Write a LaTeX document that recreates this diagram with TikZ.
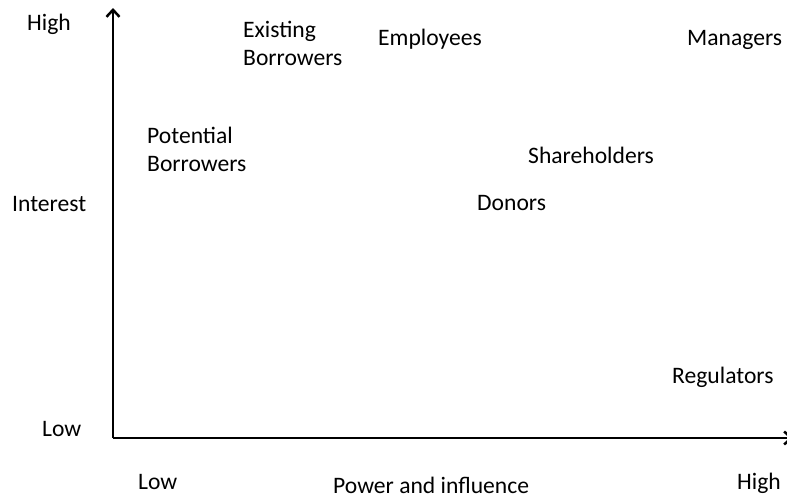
\documentclass[tikz,border=0pt]{standalone}
\usepackage{fontspec}
\setmainfont{Carlito}
\usetikzlibrary{arrows.meta}

\tikzset{
    label/.style={anchor=base west, inner sep=0pt, align=left,
        font=\fontsize{23.6}{28}\selectfont},
    axis/.style={line width=2.5pt, -{Straight Barb[length=7pt,width=13pt,line width=2.5pt]}}
}

\begin{document}
\begin{tikzpicture}[x=1pt, y=-1pt]
            \useasboundingbox (0, 0) rectangle (787, 498);

            % axes
            \coordinate (origin) at (113.0, 438.0);
            \coordinate (ytip) at (113.0, 8.0);
            \coordinate (xtip) at (793.0, 438.0);
            \draw[axis] (origin) -- (ytip); % interest
            \draw[axis] (origin) -- (xtip); % power

            % axis labels
            \node[label] (yhigh) at (27.0, 30.0) {High};
            \node[label] (ylow) at (42.0, 436.0) {Low};
            \node[label] (ytitle) at (12.0, 211.0) {Interest};
            \node[label] (xlow) at (138.0, 489.0) {Low};
            \node[label] (xhigh) at (737.0, 489.0) {High};
            \node[label] (xtitle) at (333.0, 493.0) {Power and influence};

            % stakeholders (two-line labels sit on their last line)
            \node[label] (existing) at (243.0, 65.0) {Existing\\Borrowers};
            \node[label] (employees) at (378.0, 45.0) {Employees};
            \node[label] (managers) at (687.0, 45.0) {Managers};
            \node[label] (potential) at (147.0, 171.0) {Potential\\Borrowers};
            \node[label] (shareholders) at (528.0, 163.0) {Shareholders};
            \node[label] (donors) at (477.0, 210.0) {Donors};
            \node[label] (regulators) at (672.0, 383.0) {Regulators};
        \end{tikzpicture}
\end{document}
